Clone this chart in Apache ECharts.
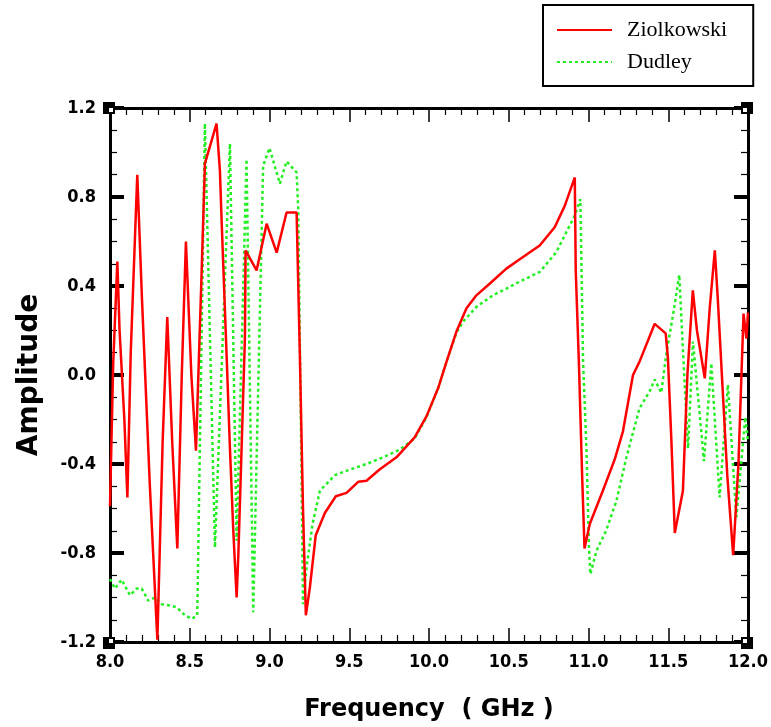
<!DOCTYPE html>
<html>
<head>
<meta charset="utf-8">
<script src="https://cdn.jsdelivr.net/npm/echarts@6/dist/echarts.min.js"></script>
<style>
html,body{margin:0;padding:0;background:#fff;}
#chart{width:771px;height:727px;}
</style>
</head>
<body>
<div id="chart"></div>
<script>
// Ziolkowski (red, solid)
const freqZiolkowski = [8.0,8.02,8.046,8.06,8.09,8.109,8.13,8.171,8.2,8.25,8.297,8.33,8.359,8.39,8.422,8.45,8.476,8.51,8.539,8.574,8.595,8.668,8.689,8.70,8.731,8.752,8.773,8.794,8.805,8.825,8.846,8.850,8.919,8.982,9.045,9.107,9.170,9.19,9.21,9.228,9.253,9.29,9.347,9.416,9.483,9.556,9.608,9.69,9.796,9.91,9.984,10.057,10.11,10.172,10.235,10.297,10.38,10.485,10.569,10.694,10.788,10.851,10.914,10.92,10.94,10.96,10.975,11.008,11.09,11.164,11.216,11.279,11.32,11.415,11.484,11.498,11.52,11.541,11.592,11.62,11.654,11.68,11.729,11.76,11.792,11.81,11.84,11.87,11.907,11.94,11.972,11.99,12.0];
const ampZiolkowski  = [-0.59,0.05,0.51,0.2,-0.2,-0.55,0.1,0.90,0.35,-0.5,-1.19,-0.3,0.26,-0.3,-0.78,0.0,0.60,0.0,-0.34,0.45,0.95,1.13,0.92,0.69,0.09,-0.33,-0.70,-1.0,-0.8,-0.33,0.17,0.56,0.47,0.68,0.55,0.73,0.73,0.1,-0.6,-1.08,-0.955,-0.72,-0.62,-0.545,-0.53,-0.48,-0.475,-0.425,-0.37,-0.28,-0.186,-0.06,0.06,0.195,0.30,0.358,0.41,0.478,0.52,0.582,0.664,0.76,0.888,0.47,0.05,-0.45,-0.78,-0.67,-0.52,-0.38,-0.253,0.0,0.06,0.23,0.187,0.075,-0.3,-0.71,-0.52,0.0,0.38,0.2,-0.015,0.3,0.56,0.35,-0.05,-0.45,-0.81,-0.4,0.276,0.164,0.28];

// Dudley (green, dotted)
const freqDudley = [8.0,8.031,8.073,8.125,8.167,8.199,8.24,8.282,8.324,8.376,8.418,8.47,8.512,8.547,8.595,8.658,8.752,8.794,8.856,8.898,8.96,9.0,9.065,9.107,9.17,9.18,9.2,9.21,9.232,9.27,9.316,9.41,9.504,9.608,9.712,9.817,9.91,9.984,10.057,10.11,10.172,10.214,10.297,10.40,10.485,10.569,10.694,10.798,10.861,10.914,10.949,10.966,10.987,11.003,11.012,11.05,11.11,11.175,11.237,11.32,11.383,11.415,11.456,11.49,11.53,11.569,11.6,11.624,11.655,11.724,11.77,11.822,11.874,11.927,11.983,12.0];
const ampDudley  = [-0.917,-0.96,-0.92,-0.99,-0.96,-0.96,-1.014,-1.0,-1.03,-1.036,-1.044,-1.08,-1.096,-1.08,1.13,-0.775,1.04,-0.745,0.97,-1.066,0.94,1.02,0.86,0.96,0.91,0.75,-0.4,-1.03,-0.865,-0.67,-0.52,-0.45,-0.425,-0.40,-0.37,-0.335,-0.285,-0.19,-0.06,0.06,0.19,0.24,0.306,0.358,0.388,0.42,0.463,0.552,0.642,0.716,0.79,0.06,-0.33,-0.775,-0.895,-0.79,-0.70,-0.566,-0.372,-0.149,-0.074,-0.02,-0.08,0.105,0.27,0.45,0.0,-0.33,0.15,-0.387,0.053,-0.55,-0.044,-0.64,-0.19,-0.3];

const xTicks = {min: 8.0, max: 12.0, interval: 0.5};
const yTicks = {min: -1.2, max: 1.2, interval: 0.4};

const zip = (a, b) => a.map((v, i) => [v, b[i]]);

const tickFont = {fontFamily: "'DejaVu Sans Condensed', 'DejaVu Sans', sans-serif", fontWeight: 'bold', fontSize: 18, color: '#000'};

function xAxisCfg(pos, show) {
  return {
    type: 'value', position: pos, min: xTicks.min, max: xTicks.max, interval: xTicks.interval,
    axisLine: {show: true, onZero: false, lineStyle: {color: '#000', width: 3}},
    axisTick: {show: true, inside: true, length: 14, lineStyle: {color: '#000', width: 1.5}},
    minorTick: {show: true, splitNumber: 5, length: 7, lineStyle: {color: '#000', width: 1.2}},
    splitLine: {show: false},
    axisLabel: {show: show, margin: 11, formatter: v => v.toFixed(1), ...tickFont}
  };
}
function yAxisCfg(pos, show) {
  return {
    type: 'value', position: pos, min: yTicks.min, max: yTicks.max, interval: yTicks.interval,
    axisLine: {show: true, onZero: false, lineStyle: {color: '#000', width: 3}},
    axisTick: {show: true, inside: true, length: 14, lineStyle: {color: '#000', width: 4}},
    minorTick: {show: true, splitNumber: 4, length: 7, lineStyle: {color: '#000', width: 1.2}},
    splitLine: {show: false},
    axisLabel: {show: show, margin: 14, formatter: v => v.toFixed(1), ...tickFont}
  };
}

const chart = echarts.init(document.getElementById('chart'), null, {renderer: 'canvas'});
const xa = xAxisCfg('bottom', true);
xa.name = 'Frequency  ( GHz )';
xa.nameLocation = 'middle';
xa.nameGap = 56;
xa.nameTextStyle = {fontFamily: "'DejaVu Sans', sans-serif", fontWeight: 'bold', fontSize: 24, color: '#000'};
const ya = yAxisCfg('left', true);
ya.name = 'Amplitude';
ya.nameLocation = 'middle';
ya.nameGap = 66;
ya.nameTextStyle = {fontFamily: "'DejaVu Sans', sans-serif", fontWeight: 'bold', fontSize: 28, color: '#000'};

// decorative corner squares of the frame
function corner(x, y, ix, iy) {
  return [
    {type: 'rect', shape: {x: x, y: y, width: 12, height: 12}, style: {fill: '#000'}, z: 100},
    {type: 'rect', shape: {x: ix, y: iy, width: 4, height: 4}, style: {fill: '#fff'}, z: 101}
  ];
}

chart.setOption({
  animation: false,
  backgroundColor: '#fff',
  grid: {left: 110, right: 23, top: 108, bottom: 82, containLabel: false},
  xAxis: [xa, xAxisCfg('top', false)],
  yAxis: [ya, yAxisCfg('right', false)],
  legend: {
    show: true, orient: 'vertical', left: 543, top: 5,
    padding: [14, 26, 13, 13], itemGap: 10, itemWidth: 55, itemHeight: 14,
    borderColor: '#000', borderWidth: 2, backgroundColor: '#fff',
    itemStyle: {opacity: 0},
    textStyle: {fontFamily: "'Liberation Serif', 'DejaVu Serif', serif", fontSize: 22, color: '#000', padding: [0, 0, 0, 10]},
    data: ['Ziolkowski', 'Dudley']
  },
  graphic: [].concat(
    corner(103, 102, 109, 108),
    corner(741, 102, 743, 108),
    corner(103, 637, 109, 639),
    corner(741, 637, 743, 639)
  ),
  series: [
    {
      name: 'Ziolkowski', type: 'line', xAxisIndex: 0, yAxisIndex: 0,
      data: zip(freqZiolkowski, ampZiolkowski), symbol: 'none', showSymbol: false,
      lineStyle: {color: '#ff0000', width: 2.5}, itemStyle: {color: '#ff0000'}, z: 3
    },
    {
      name: 'Dudley', type: 'line', xAxisIndex: 0, yAxisIndex: 0,
      data: zip(freqDudley, ampDudley), symbol: 'none', showSymbol: false,
      lineStyle: {color: '#22ee22', width: 2.5, type: [3, 3]}, itemStyle: {color: '#22ee22'}, z: 2
    }
  ]
});
</script>
</body>
</html>
